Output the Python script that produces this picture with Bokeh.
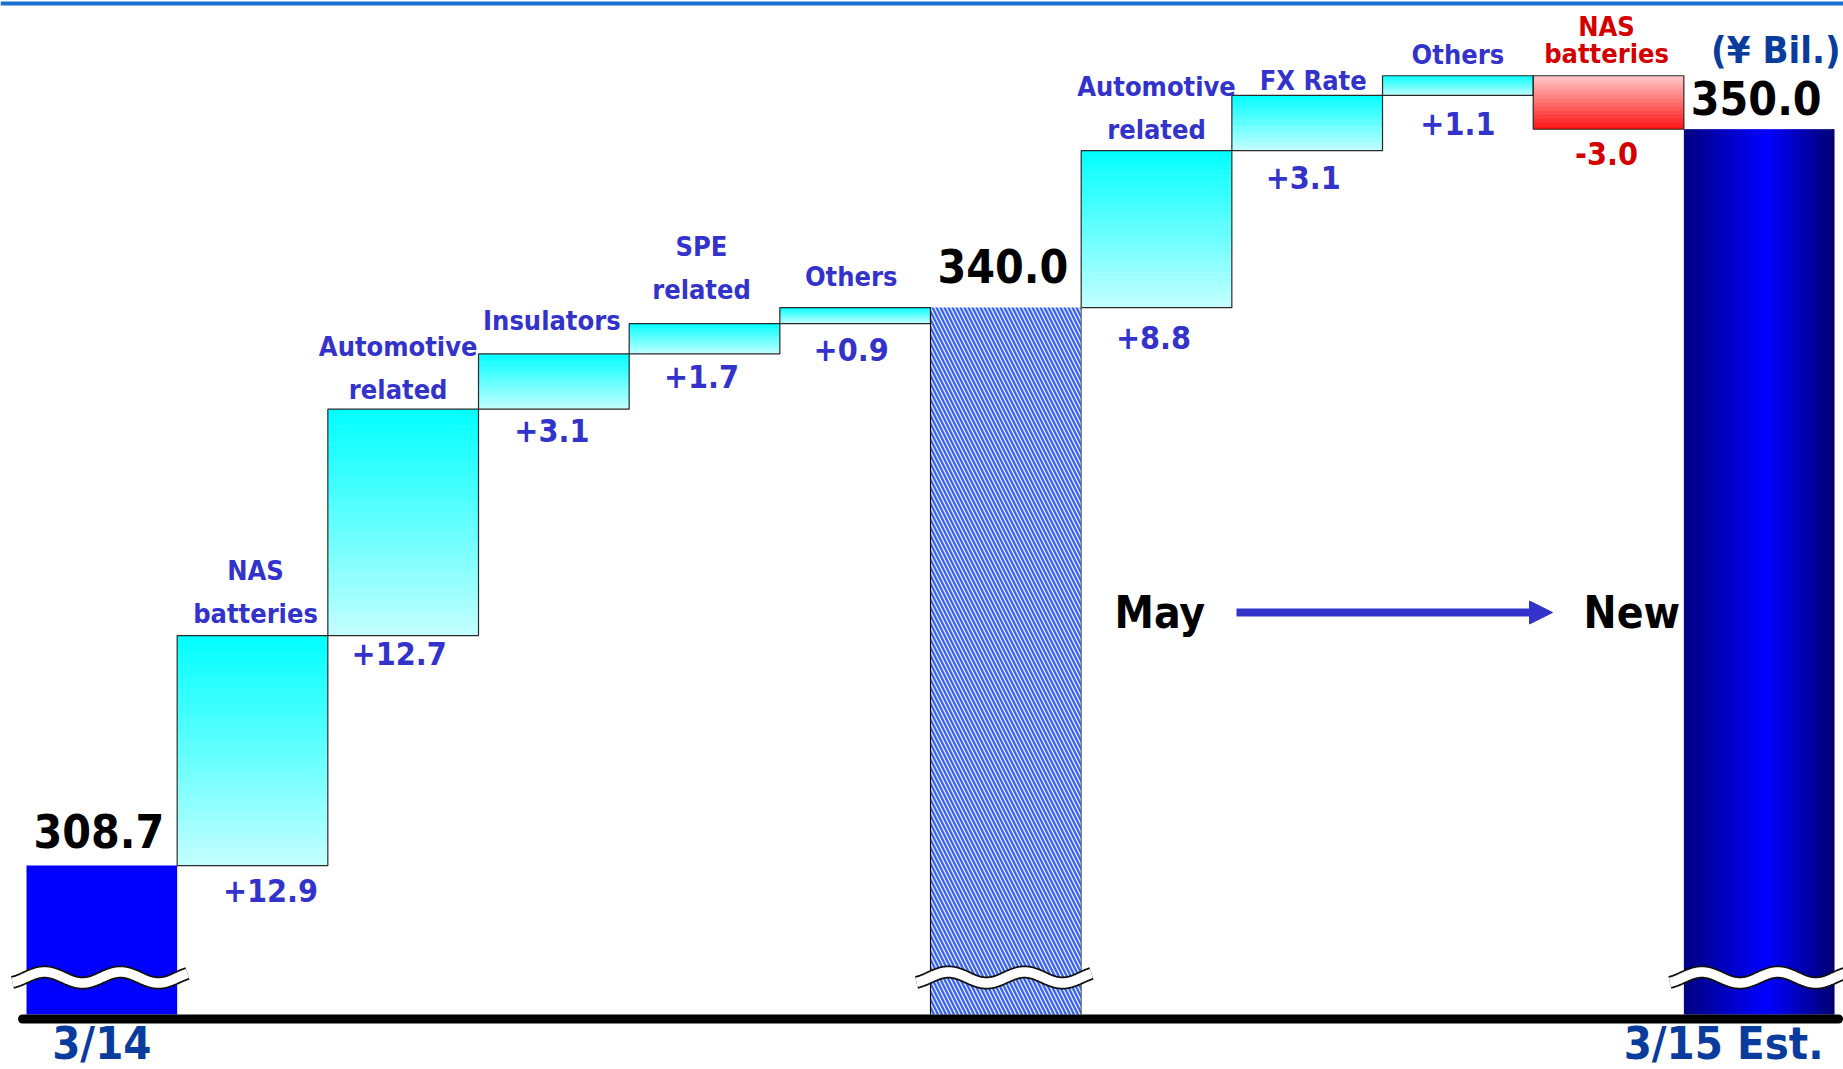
import numpy as np
from bokeh.plotting import figure
from bokeh.models import Range1d, Span, Arrow, NormalHead, ColumnDataSource
from bokeh.core.properties import value
from bokeh.embed import file_html
from bokeh.resources import INLINE

# ---------------- data ----------------
START_LABEL = "3/14"
START_VALUE = 308.7
MAY_ITEMS = ["NAS batteries", "Automotive related", "Insulators", "SPE related", "Others"]
MAY_DELTAS = [12.9, 12.7, 3.1, 1.7, 0.9]
MAY_LABEL = "May"
MAY_VALUE = 340.0
NEW_ITEMS = ["Automotive related", "FX Rate", "Others", "NAS batteries"]
NEW_DELTAS = [8.8, 3.1, 1.1, -3.0]
NEW_LABEL = "New"
END_LABEL = "3/15 Est."
END_VALUE = 350.0
UNIT_LABEL = "(¥ Bil.)"

# ---------------- layout / style ----------------
W, H = 1843, 1069
SLOT_PX = 150.67      # width of one bar slot in pixels
SLOT0_PX = 26.0       # left pixel of the first slot
UNIT_PX = 17.83       # pixels per ¥ Bil.
TOP_VALUE = 357.22    # value at the top pixel row
BASE_PX = 1014        # bars are cut (broken axis) at this pixel row

FONT = "DejaVu Sans Condensed"
BLUE_TXT = "#3333cc"
RED_TXT = "#d40000"
DARK_TXT = "#0a3c9e"
LINE_BREAKS = {"NAS batteries": ["NAS", "batteries"],
               "Automotive related": ["Automotive", "related"],
               "SPE related": ["SPE", "related"]}
LABEL_LIFT_PX = [22, 20, 33, 34, 31, 21, 15, 21, 22]
LABEL_SHIFT_PX = [3, -5, -2, -3, -4, 0, 6, 0, -2]
DELTA_DROP_PX = [25, 18, 21, 23, 26, 30, 27, 28, 24]
DELTA_SHIFT_PX = [18, -4, -2, -3, -4, -3, -4, 0, -2]
TOTAL_LIFT_PX = [35, 42, 31]


def x_of(px):
    return (px - SLOT0_PX) / SLOT_PX


def y_of(py):
    return TOP_VALUE - py / UNIT_PX


def dxp(px):
    return px / SLOT_PX


def dyp(px):
    return px / UNIT_PX


def hexc(c):
    return "#%02x%02x%02x" % tuple(int(round(v)) for v in c)


def lerp(a, b, t):
    return tuple(a[k] + (b[k] - a[k]) * t for k in range(3))


BASE = y_of(BASE_PX)

p = figure(width=W, height=H,
           x_range=Range1d(x_of(0), x_of(W)), y_range=Range1d(y_of(H), y_of(0)),
           output_backend="svg", toolbar_location=None,
           x_axis_location=None, y_axis_location=None,
           min_border=0, outline_line_color=None,
           background_fill_color="white", border_fill_color="white")
p.grid.grid_line_color = None


def text(x, y, s, size, color, align="center", baseline="middle"):
    p.text(x=[x], y=[y], text=[s], text_font=value(FONT), text_font_size=f"{size}px",
           text_font_style="bold", text_color=color, text_align=align,
           text_baseline=baseline)


# ---------------- compute waterfall ----------------
steps = []  # (slot, item, delta, bottom, top)
cum = START_VALUE
slot = 1
for item, d in zip(MAY_ITEMS, MAY_DELTAS):
    steps.append((slot, item, d, min(cum, cum + d), max(cum, cum + d)))
    cum += d
    slot += 1
MAY_SLOT = slot
slot += 1
cum = MAY_VALUE
for item, d in zip(NEW_ITEMS, NEW_DELTAS):
    steps.append((slot, item, d, min(cum, cum + d), max(cum, cum + d)))
    cum += d
    slot += 1
END_SLOT = slot

# "New" text first so the final bar covers its edge
text(x_of(1583), y_of(612), NEW_LABEL, 44, "black", align="left")
text(x_of(1114), y_of(612), MAY_LABEL, 44, "black", align="left")

# ---------------- bars ----------------
# start bar
p.quad(left=[0], right=[1], bottom=[BASE], top=[START_VALUE], fill_color="#0000ff", line_color=None)

# gradient step bars
CYAN_TOP, CYAN_BOT = (0, 255, 255), (196, 255, 255)
RED_TOP, RED_BOT = (255, 202, 202), (255, 16, 16)
N = 40
gl, gr, gb, gt, gc = [], [], [], [], []
for (s, item, d, b, t) in steps:
    ctop, cbot = (CYAN_TOP, CYAN_BOT) if d > 0 else (RED_TOP, RED_BOT)
    ys = np.linspace(t, b, N + 1)
    for i in range(N):
        frac = (i + 0.5) / N
        gl.append(s)
        gr.append(s + 1)
        gt.append(ys[i])
        gb.append(ys[i + 1] - (dyp(0.6) if i < N - 1 else 0))
        gc.append(hexc(lerp(ctop, cbot, frac)))
p.quad(source=ColumnDataSource(dict(l=gl, r=gr, b=gb, t=gt, c=gc)),
       left="l", right="r", bottom="b", top="t", fill_color="c", line_color=None)
p.quad(left=[s for s, *_ in steps], right=[s + 1 for s, *_ in steps],
       bottom=[st[3] for st in steps], top=[st[4] for st in steps],
       fill_color=None, line_color="#2a2a2a", line_width=1.2)

# May forecast bar (hatched)
p.quad(left=[MAY_SLOT], right=[MAY_SLOT + 1], bottom=[BASE], top=[MAY_VALUE],
       fill_color="#d4f0ff", line_color=None,
       hatch_pattern="\\", hatch_color="#3f5cf0", hatch_scale=8, hatch_weight=2.2)
p.segment(x0=[MAY_SLOT, MAY_SLOT + 1], x1=[MAY_SLOT, MAY_SLOT + 1], y0=[BASE, BASE],
          y1=[MAY_VALUE, MAY_VALUE], line_color=["#111111", "#666666"], line_width=1.2)

# final bar (horizontal gradient)
NAVY_L, BRIGHT, NAVY_R = (0, 0, 128), (0, 0, 255), (0, 0, 112)
PEAK = 0.55
M = 60
fl, fr, fc = [], [], []
for i in range(M):
    frac = (i + 0.5) / M
    col = lerp(NAVY_L, BRIGHT, frac / PEAK) if frac < PEAK else lerp(BRIGHT, NAVY_R, (frac - PEAK) / (1 - PEAK))
    fl.append(END_SLOT + i / M)
    fr.append(END_SLOT + (i + 1) / M + (1.0 / M if i < M - 1 else 0) * 0.5)
    fc.append(hexc(col))
p.quad(source=ColumnDataSource(dict(l=fl, r=fr, c=fc, b=[BASE] * M, t=[END_VALUE] * M)),
       left="l", right="r", bottom="b", top="t", fill_color="c", line_color=None)

# break marks
wx, wy = [], []
for s in (0, MAY_SLOT, END_SLOT):
    left_px = SLOT0_PX + s * SLOT_PX
    xs = np.arange(left_px - 14, left_px + SLOT_PX + 11, 1.0)
    ys = 977 - 5.5 * np.cos(2 * np.pi * (xs - (left_px + 18)) / 76.0)
    wx.append(list(x_of(xs)))
    wy.append(list(y_of(ys)))
p.multi_line(xs=wx, ys=wy, line_color="#111111", line_width=13, line_cap="butt")
p.multi_line(xs=wx, ys=wy, line_color="white", line_width=9.5, line_cap="butt")

# baseline
p.segment(x0=[x_of(SLOT0_PX - 4)], x1=[x_of(SLOT0_PX + 12 * SLOT_PX + 4)],
          y0=[BASE - dyp(4.5)], y1=[BASE - dyp(4.5)],
          line_color="black", line_width=9, line_cap="round")

# ---------------- texts ----------------
for k, (s, item, d, b, t) in enumerate(steps):
    col = BLUE_TXT if d > 0 else RED_TXT
    lines = LINE_BREAKS.get(item, [item])
    gap = 43 if d > 0 else 27
    n = len(lines)
    for j, ln in enumerate(lines):
        lift = LABEL_LIFT_PX[k] + (n - 1 - j) * gap
        text(s + 0.5 + dxp(LABEL_SHIFT_PX[k]), t + dyp(lift), ln, 27, col)
    text(s + 0.5 + dxp(DELTA_SHIFT_PX[k]), b - dyp(DELTA_DROP_PX[k]),
         f"{d:+.1f}" if d > 0 else f"{d:.1f}", 32, col)

for k, (s, v) in enumerate([(0, START_VALUE), (MAY_SLOT, MAY_VALUE), (END_SLOT, END_VALUE)]):
    text(s + 0.5 - dxp(3), v + dyp(TOTAL_LIFT_PX[k]), f"{v:.1f}", 46, "black")

text(0.5, BASE - dyp(29), START_LABEL, 45, DARK_TXT)
text(END_SLOT + 1 - dxp(11), BASE - dyp(29), END_LABEL, 45, DARK_TXT, align="right")
text(x_of(1840), y_of(49), UNIT_LABEL, 38, DARK_TXT, align="right")

# arrow May -> New
p.add_layout(Arrow(x_start=x_of(1236), y_start=y_of(612), x_end=x_of(1552), y_end=y_of(612),
                   line_color=BLUE_TXT, line_width=8,
                   end=NormalHead(size=23, fill_color=BLUE_TXT, line_color=BLUE_TXT, line_width=1)))

# top rule
p.add_layout(Span(location=y_of(3), dimension="width", line_color="#1a6fd0", line_width=4))

open("out.html", "w").write(file_html(p, INLINE))
